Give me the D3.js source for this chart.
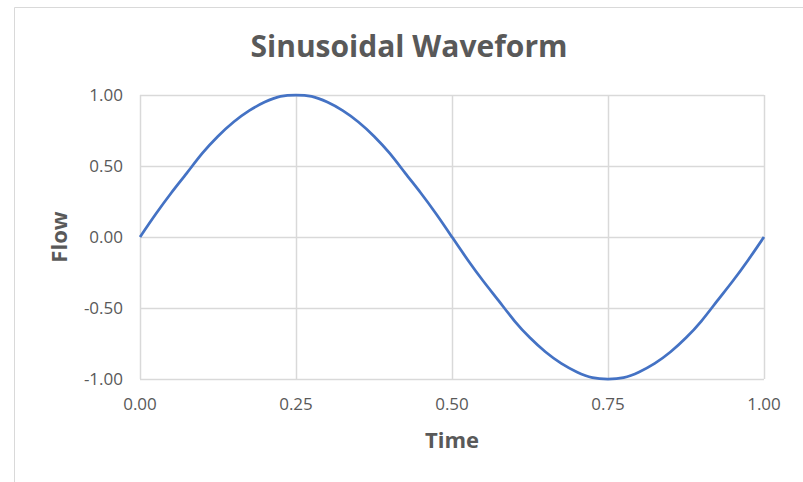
<!DOCTYPE html>
<html>
<head>
<meta charset="utf-8">
<script src="https://cdn.jsdelivr.net/npm/d3@7"></script>
<style>
  body { margin: 0; background: #fff; }
  text { font-family: "Open Sans", sans-serif; fill: #595959; }
</style>
</head>
<body>
<div id="chart"></div>
<script>
// values
var timeValues = [0.000, 0.025, 0.050, 0.075, 0.100, 0.125, 0.150, 0.175, 0.200, 0.225,
                  0.250, 0.275, 0.300, 0.325, 0.350, 0.375, 0.400, 0.425, 0.450, 0.475,
                  0.500, 0.525, 0.550, 0.575, 0.600, 0.625, 0.650, 0.675, 0.700, 0.725,
                  0.750, 0.775, 0.800, 0.825, 0.850, 0.875, 0.900, 0.925, 0.950, 0.975, 1.000]
var flowValues = [0.00, 0.16, 0.31, 0.45, 0.59, 0.71, 0.81, 0.89, 0.95, 0.99,
                  1.00, 0.99, 0.95, 0.89, 0.81, 0.71, 0.59, 0.45, 0.31, 0.16,
                  0.00, -0.16, -0.31, -0.45, -0.59, -0.71, -0.81, -0.89, -0.95, -0.99,
                  -1.00, -0.99, -0.95, -0.89, -0.81, -0.71, -0.59, -0.45, -0.31, -0.16, 0.00]
var xTicks = [0, 0.25, 0.5, 0.75, 1]
var yTicks = [-1, -0.5, 0, 0.5, 1]

var width = 803, height = 482
var margin = {top: 95, right: 39, bottom: 103, left: 140}
var innerWidth = width - margin.left - margin.right
var innerHeight = height - margin.top - margin.bottom

// excel style number labels with a plain hyphen
var fmt = d => d.toFixed(2)

var root = d3.select('#chart').append('svg')
    .attr('width', width).attr('height', height)

// outer chart border (top + left visible)
root.append('path')
    .attr('d', 'M14.5,' + height + 'V7.5H' + width)
    .attr('fill', 'none')
    .attr('stroke', '#d9d9d9')

var svg = root.append('g').attr('transform', `translate(${margin.left}, ${margin.top})`)

var x = d3.scaleLinear().domain([0, 1]).range([0, innerWidth])
var y = d3.scaleLinear().domain([-1, 1]).range([innerHeight, 0])

// grid
svg.append('g')
    .selectAll('line').data(yTicks).join('line')
    .attr('x1', 0).attr('x2', innerWidth)
    .attr('y1', d => Math.round(y(d)) + 0.5).attr('y2', d => Math.round(y(d)) + 0.5)
    .attr('stroke', '#d9d9d9').attr('stroke-width', 1.5)
svg.append('g')
    .selectAll('line').data(xTicks).join('line')
    .attr('x1', d => Math.round(x(d)) + 0.5).attr('x2', d => Math.round(x(d)) + 0.5)
    .attr('y1', 0).attr('y2', innerHeight)
    .attr('stroke', '#d9d9d9').attr('stroke-width', 1.5)

// tick labels
svg.append('g')
    .selectAll('text').data(xTicks).join('text')
    .attr('x', d => x(d))
    .attr('y', innerHeight + 31)
    .attr('text-anchor', 'middle')
    .style('font-size', '17px')
    .text(fmt)

svg.append('g')
    .selectAll('text').data(yTicks).join('text')
    .attr('x', -17)
    .attr('y', d => y(d) + 6)
    .attr('text-anchor', 'end')
    .style('font-size', '17px')
    .text(fmt)

// series
var line = d3.line()
    .x((d, i) => x(timeValues[i]))
    .y(d => y(d))
    .curve(d3.curveNatural)
svg.append('path')
    .datum(flowValues)
    .attr('fill', 'none')
    .attr('stroke', '#4472c4')
    .attr('stroke-width', 2.75)
    .attr('d', line)

// title, centred on the whole chart area
root.append('text')
    .attr('x', 409)
    .attr('y', 57)
    .attr('text-anchor', 'middle')
    .style('font-size', '30px')
    .style('font-weight', 'bold')
    .text('Sinusoidal Waveform')

// axis titles
root.append('text')
    .attr('x', margin.left + innerWidth / 2)
    .attr('y', 448)
    .attr('text-anchor', 'middle')
    .style('font-size', '22px')
    .style('font-weight', 'bold')
    .text('Time')

root.append('text')
    .attr('transform', `translate(67, ${margin.top + innerHeight / 2}) rotate(-90)`)
    .attr('text-anchor', 'middle')
    .style('font-size', '22px')
    .style('font-weight', 'bold')
    .text('Flow')
</script>
</body>
</html>
